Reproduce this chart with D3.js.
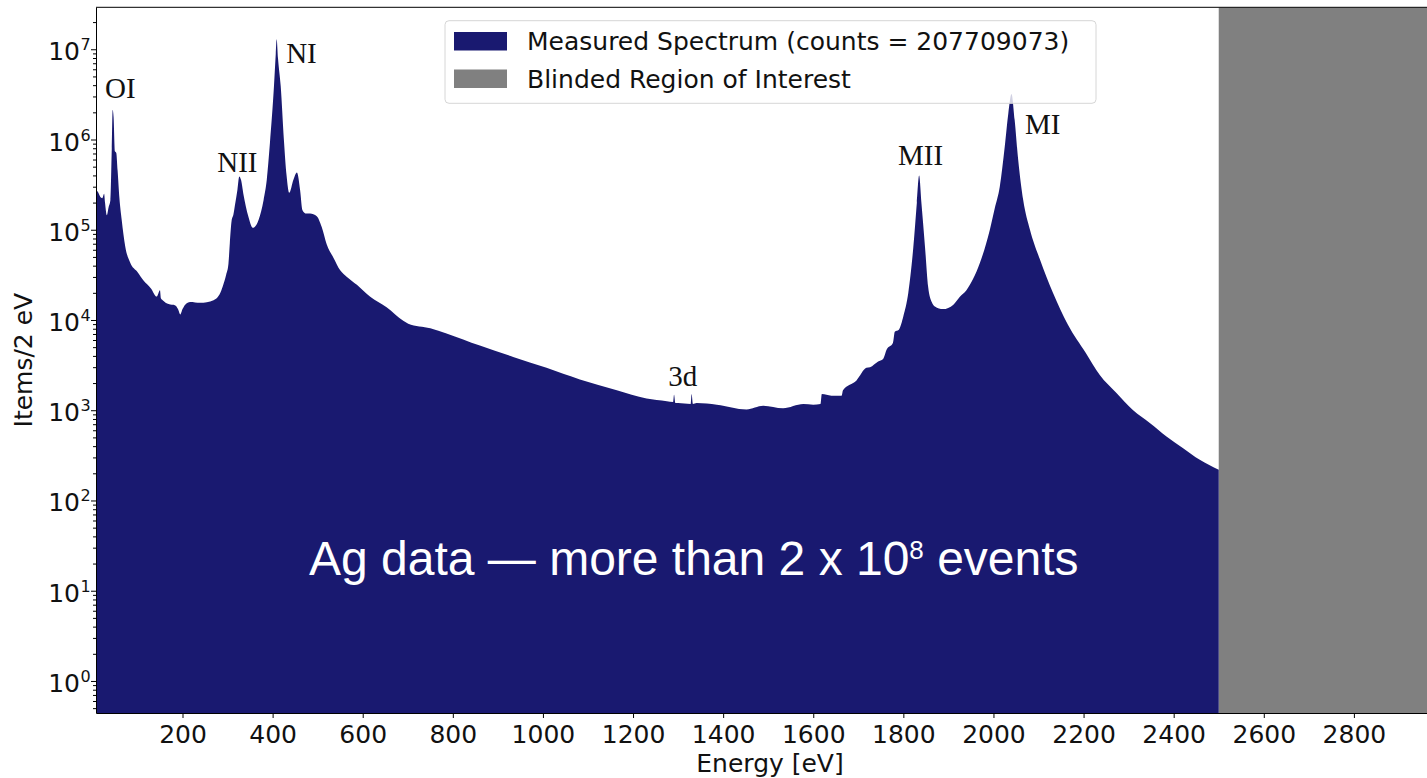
<!DOCTYPE html>
<html>
<head>
<meta charset="utf-8">
<script src="https://cdn.jsdelivr.net/npm/d3@7"></script>
<style>
  body { margin: 0; background: #fff; }
  svg { display: block; }
</style>
</head>
<body>
<svg id="chart" width="1427" height="778"></svg>
<script>
// measured Ag spectrum: energy [eV] and items per 2 eV bin
const energyEv = [
  8, 12, 17, 22, 26, 28, 32, 36, 40, 43, 45, 47, 50, 53, 56, 60, 65, 73, 84, 100,
  113, 130, 143, 150, 152, 156, 169, 184, 190, 195, 200, 206, 217, 239, 269, 284, 291, 297, 302,
  305, 309, 313, 317, 322, 326, 330, 335, 346, 356, 369, 380, 387, 394, 403, 407, 409, 412, 418, 425,
  431, 437, 446, 454, 461, 466, 475, 483, 498, 509, 520, 535, 550, 565, 587, 616, 653, 690, 701,
  750, 786, 860, 934, 1008, 1082, 1164, 1230, 1275, 1289, 1291, 1294, 1300, 1328, 1330, 1333, 1341, 1386, 1452, 1489,
  1533, 1578, 1600, 1616, 1619, 1640, 1663, 1666, 1696, 1718, 1726, 1744, 1755, 1763, 1777, 1781, 1790, 1800, 1811, 1822,
  1830, 1835, 1840, 1848, 1855, 1863, 1870, 1888, 1911, 1925, 1940, 1970, 1992, 2003, 2014, 2025, 2033, 2040, 2047, 2055,
  2066, 2081, 2103, 2132, 2165, 2205, 2236, 2273, 2310, 2347, 2384, 2421, 2458, 2500
];
const itemsPer2eV = [
  2.75e5, 2.63e5, 2.34e5, 2.24e5, 2.51e5, 2.0e5, 1.45e5, 1.78e5, 2.14e5, 7.9e5, 2.14e6, 1.78e6, 7.4e5, 7.1e5, 4.5e5, 2.24e5, 1.29e5, 6.5e4, 4.3e4, 3.4e4,
  2.75e4, 2.24e4, 1.82e4, 2.14e4, 1.74e4, 1.66e4, 1.5e4, 1.45e4, 1.32e4, 1.15e4, 1.32e4, 1.48e4, 1.58e4, 1.55e4, 1.66e4, 2.0e4, 2.5e4, 3.2e4, 4.2e4,
  7.1e4, 1.26e5, 1.48e5, 1.95e5, 2.8e5, 3.9e5, 3.55e5, 2.51e5, 1.41e5, 1.05e5, 1.29e5, 2.14e5, 3.55e5, 9.1e5, 3.9e6, 8.9e6, 1.29e7, 7.9e6, 3.9e6, 1.0e6,
  4.0e5, 2.57e5, 3.55e5, 4.3e5, 2.75e5, 1.66e5, 1.51e5, 1.51e5, 1.41e5, 1.07e5, 6.9e4, 4.9e4, 3.55e4, 3.0e4, 2.45e4, 1.82e4, 1.38e4, 9.8e3, 9.1e3,
  8.1e3, 7.1e3, 5.2e3, 3.9e3, 2.95e3, 2.19e3, 1.66e3, 1.35e3, 1.26e3, 1.23e3, 1.48e3, 1.2e3, 1.2e3, 1.17e3, 1.51e3, 1.17e3, 1.2e3, 1.15e3, 1.02e3, 1.12e3,
  1.05e3, 1.17e3, 1.15e3, 1.17e3, 1.51e3, 1.45e3, 1.45e3, 1.66e3, 2.14e3, 2.95e3, 3.0e3, 3.47e3, 3.7e3, 4.7e3, 5.6e3, 7.4e3, 7.8e3, 1.1e4, 2.0e4, 6.3e4,
  2.0e5, 4.0e5, 2.0e5, 6.5e4, 2.34e4, 1.58e4, 1.41e4, 1.32e4, 1.48e4, 1.8e4, 2.14e4, 4.3e4, 1.0e5, 1.74e5, 3.0e5, 8.3e5, 1.95e6, 3.2e6, 1.66e6, 5.9e5,
  2.14e5, 1.0e5, 4.7e4, 2.0e4, 8.9e3, 4.3e3, 2.45e3, 1.55e3, 1.0e3, 724, 513, 380, 282, 219
];

const xTicks = [200, 400, 600, 800, 1000, 1200, 1400, 1600, 1800, 2000, 2200, 2400, 2600, 2800];
const yTickExponents = [0, 1, 2, 3, 4, 5, 6, 7];
const blindedRange = [2500, 3000];
const legendLabels = ["Measured Spectrum (counts = 207709073)", "Blinded Region of Interest"];

// peak annotations, placed in data coordinates
const peakNames = ["OI", "NII", "NI", "3d", "MII", "MI"];
const peakTextEnergy = [28, 277, 430, 1278, 1788, 2070];
const peakTextCounts = [2.9e6, 4.37e5, 7.05e6, 1.84e3, 5.22e5, 1.15e6];

const W = 1427, H = 778;
const plot = { left: 96, right: 1444, top: 7.3, bottom: 713 };
const spectrumColor = "#191970"; // midnightblue
const blindColor = "#808080";
const sansFont = "'DejaVu Sans', sans-serif";

const svg = d3.select("#chart");
svg.append("rect").attr("width", W).attr("height", H).attr("fill", "#fff");

const x = d3.scaleLinear().domain([8, 3000]).range([plot.left, plot.right]);
const y = d3.scaleLog().domain([0.4416, 2.917e7]).range([plot.bottom, plot.top]);

svg.append("defs").append("clipPath").attr("id", "plot-clip")
  .append("rect")
  .attr("x", plot.left).attr("y", plot.top)
  .attr("width", plot.right - plot.left).attr("height", plot.bottom - plot.top);

const body = svg.append("g").attr("clip-path", "url(#plot-clip)");

// blinded region
body.append("rect")
  .attr("x", x(blindedRange[0]))
  .attr("y", plot.top)
  .attr("width", x(blindedRange[1]) - x(blindedRange[0]))
  .attr("height", plot.bottom - plot.top)
  .attr("fill", blindColor);

const spectrum = energyEv.map((e, i) => [e, itemsPer2eV[i]]);
const area = d3.area()
  .curve(d3.curveMonotoneX)
  .x(d => x(d[0]))
  .y0(plot.bottom)
  .y1(d => y(d[1]));

body.append("path")
  .datum(spectrum)
  .attr("d", area)
  .attr("fill", spectrumColor);

// x axis
const xAxisG = svg.append("g")
  .attr("transform", `translate(0,${plot.bottom})`)
  .call(d3.axisBottom(x).tickValues(xTicks).tickSize(5).tickSizeOuter(0).tickPadding(7).tickFormat(d3.format("d")));
xAxisG.selectAll("text")
  .attr("font-family", sansFont).attr("font-size", 25).attr("fill", "#111");

// y axis: minor then major ticks
const minorTicks = [];
for (let k = -1; k <= 7; k++) {
  for (let m = 2; m <= 9; m++) {
    const v = m * Math.pow(10, k);
    if (v > y.domain()[0] && v < y.domain()[1]) minorTicks.push(v);
  }
}
const yMinorG = svg.append("g")
  .attr("transform", `translate(${plot.left},0)`)
  .call(d3.axisLeft(y).tickValues(minorTicks).tickSize(3).tickSizeOuter(0).tickFormat(""));
yMinorG.select(".domain").remove();

svg.append("g")
  .attr("transform", `translate(${plot.left},0)`)
  .call(d3.axisLeft(y).tickValues(yTickExponents.map(k => Math.pow(10, k))).tickSize(5).tickSizeOuter(0).tickFormat(""));

// y tick labels as 10^k
const yLabels = svg.append("g").attr("font-family", sansFont).attr("fill", "#111");
yTickExponents.forEach(k => {
  const ty = y(Math.pow(10, k));
  yLabels.append("text")
    .attr("x", 80).attr("y", ty + 11)
    .attr("text-anchor", "end").attr("font-size", 25)
    .text("10");
  yLabels.append("text")
    .attr("x", 80.5).attr("y", ty + 1)
    .attr("font-size", 16)
    .text(k);
});

// top spine (right spine falls outside the picture)
svg.append("line")
  .attr("x1", plot.left).attr("x2", plot.right)
  .attr("y1", plot.top).attr("y2", plot.top)
  .attr("stroke", "#000");

svg.selectAll(".domain, .tick line").attr("stroke", "#000").attr("stroke-width", 1);

// axis titles
svg.append("text")
  .attr("x", (plot.left + plot.right) / 2).attr("y", 772)
  .attr("text-anchor", "middle")
  .attr("font-family", sansFont).attr("font-size", 25).attr("fill", "#111")
  .text("Energy [eV]");

svg.append("text")
  .attr("transform", `translate(32,${(plot.top + plot.bottom) / 2}) rotate(-90)`)
  .attr("text-anchor", "middle")
  .attr("font-family", sansFont).attr("font-size", 25).attr("fill", "#111")
  .text("Items/2 eV");

// peak labels
svg.append("g").selectAll("text")
  .data(peakNames)
  .join("text")
  .attr("x", (d, i) => x(peakTextEnergy[i]))
  .attr("y", (d, i) => y(peakTextCounts[i]))
  .attr("font-family", "'Liberation Serif', serif")
  .attr("font-size", 29)
  .attr("fill", "#111")
  .text(d => d);

// legend
const legend = svg.append("g");
legend.append("rect")
  .attr("x", 445).attr("y", 20.7).attr("width", 651).attr("height", 82.6)
  .attr("rx", 4)
  .attr("fill", "#fff").attr("fill-opacity", 0.8)
  .attr("stroke", "#d6d6d6").attr("stroke-width", 1);
const legendColors = [spectrumColor, blindColor];
legendLabels.forEach((lab, i) => {
  const top = 32 + i * 37.5;
  legend.append("rect")
    .attr("x", 454).attr("y", top).attr("width", 53).attr("height", 18.5)
    .attr("fill", legendColors[i]);
  legend.append("text")
    .attr("x", 527).attr("y", top + 18)
    .attr("font-family", sansFont).attr("font-size", 25).attr("fill", "#111")
    .text(lab);
});

// overlay note
const note = svg.append("text")
  .attr("x", 309).attr("y", 575)
  .attr("font-family", "'Liberation Sans', Arial, sans-serif")
  .attr("font-size", 48)
  .attr("fill", "#fff");
note.append("tspan").text("Ag data \u2014 more than 2 x 10");
note.append("tspan").attr("font-size", 26).attr("dy", -16).text("8");
note.append("tspan").attr("dy", 16).text(" events");
</script>
</body>
</html>
